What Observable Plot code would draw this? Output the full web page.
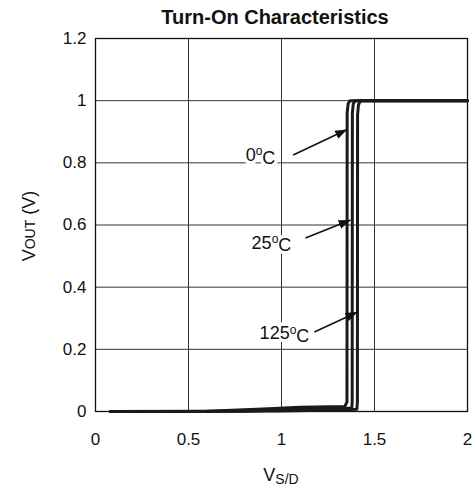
<!DOCTYPE html>
<html><head><meta charset="utf-8">
<script src="https://cdn.jsdelivr.net/npm/d3@7"></script>
<script src="https://cdn.jsdelivr.net/npm/@observablehq/plot@0.6"></script>
<style>
body{margin:0;background:#fff;font-family:"Liberation Sans",Arial,sans-serif}
#title{width:474px;height:30px;line-height:30px;padding-top:2px;box-sizing:border-box;padding-left:76px;text-align:center;font-weight:bold;font-size:20px;color:#111}
</style></head><body>
<div id="title">Turn-On Characteristics</div>
<div id="chart"></div>
<script>
// Series: VS/D (x) and VOUT (y) per temperature
const series = ["0°C", "25°C", "125°C"];
const vsd_0   = [0.08, 0.6, 0.9, 1.1, 1.34, 1.352, 1.353, 1.358, 1.368, 2.0];
const vout_0  = [0.0, 0.001, 0.008, 0.014, 0.016, 0.03, 0.96, 0.99, 1.0, 1.0];
const vsd_25  = [0.08, 0.8, 1.05, 1.3, 1.378, 1.38, 1.381, 1.386, 1.396, 2.0];
const vout_25 = [0.0, 0.001, 0.006, 0.01, 0.011, 0.03, 0.96, 0.99, 1.0, 1.0];
const vsd_125  = [0.08, 1.0, 1.3, 1.405, 1.408, 1.409, 1.414, 1.425, 2.0];
const vout_125 = [0.0, 0.002, 0.005, 0.007, 0.03, 0.955, 0.987, 1.0, 1.0];

// Annotation labels and arrows
const labelText = ["0°C", "25°C", "125°C"];
const labelX = [0.887, 0.946, 1.016];
const labelY = [0.825, 0.542, 0.251];
const arrowX1 = [1.063, 1.129, 1.177];
const arrowY1 = [0.825, 0.558, 0.256];
const arrowX2 = [1.353, 1.371, 1.409];
const arrowY2 = [0.907, 0.616, 0.320];

const xTicks = [0, 0.5, 1, 1.5, 2];
const yTicks = [0, 0.2, 0.4, 0.6, 0.8, 1.0, 1.2];

const curves = [[vsd_0, vout_0], [vsd_25, vout_25], [vsd_125, vout_125]];
const rows = curves.flatMap(([xs, ys], k) => xs.map((x, i) => ({series: series[k], x, y: ys[i]})));
const labels = labelText.map((t, i) => ({t, x: labelX[i], y: labelY[i]}));
const arrows = arrowX1.map((x1, i) => ({x1, y1: arrowY1[i], x2: arrowX2[i], y2: arrowY2[i]}));

const triangle = (color) => {
  const m = d3.create("svg:marker")
    .attr("viewBox", "0 -5 12 10")
    .attr("markerWidth", 12).attr("markerHeight", 10)
    .attr("markerUnits", "userSpaceOnUse")
    .attr("refX", 12).attr("refY", 0)
    .attr("orient", "auto");
  m.append("path").attr("d", "M0,-4.5L12,0L0,4.5Z").attr("fill", color).attr("stroke", "none");
  return m.node();
};

const fmt = d => String(d);

const chart = Plot.plot({
  width: 474,
  height: 457,
  marginTop: 8,
  marginLeft: 95,
  marginRight: 7,
  marginBottom: 76,
  style: {fontFamily: '"Liberation Sans", Arial, sans-serif', fontSize: "17px", color: "#111", background: "#fff"},
  x: {domain: [0, 2], ticks: xTicks, tickFormat: fmt, tickSize: 0, tickPadding: 21, label: null},
  y: {domain: [0, 1.2], ticks: yTicks, tickFormat: fmt, tickSize: 0, tickPadding: 9, label: null},
  marks: [
    Plot.gridX(xTicks.slice(1, -1), {stroke: "#333", strokeOpacity: 1, strokeWidth: 1}),
    Plot.gridY(yTicks.slice(1, -1), {stroke: "#333", strokeOpacity: 1, strokeWidth: 1}),
    Plot.frame({stroke: "#111", strokeWidth: 1.3}),
    Plot.line(rows, {x: "x", y: "y", z: "series", stroke: "#1a1a1a", strokeWidth: 3, strokeLinejoin: "round"}),
    // white halo behind labels (breaks gridlines), then the labels themselves
    Plot.text(labels, {x: "x", y: "y", text: "t", fontSize: 18, fill: "white", stroke: "white", strokeWidth: 7, className: "halo"}),
    Plot.text(labels, {x: "x", y: "y", text: "t", fontSize: 18, fill: "#111", className: "lbl"}),
    Plot.link(arrows, {x1: "x1", y1: "y1", x2: "x2", y2: "y2", stroke: "#111", strokeWidth: 1.6, markerEnd: triangle})
  ]
});
document.getElementById("chart").appendChild(chart);

const svg = d3.select(chart);
// Superscript "o" for the degree sign in annotation labels
svg.selectAll('g[aria-label="text"] text').each(function () {
  const el = d3.select(this);
  const s = el.text();
  const i = s.indexOf("°");
  if (i < 0) return;
  el.text("");
  el.append("tspan").text(s.slice(0, i));
  el.append("tspan").attr("dy", "-0.45em").style("font-size", "12px").text("o");
  el.append("tspan").attr("dy", "0.45em").text(s.slice(i + 1));
});

// Axis titles with subscripts
const yl = svg.append("text")
  .attr("transform", "translate(35,196) rotate(-90)")
  .attr("text-anchor", "middle")
  .attr("fill", "#111")
  .style("font-size", "18px");
yl.append("tspan").text("V");
yl.append("tspan").style("font-size", "14px").text("OUT");
yl.append("tspan").text(" (V)");

const xl = svg.append("text")
  .attr("x", 281).attr("y", 451)
  .attr("text-anchor", "middle")
  .attr("fill", "#111")
  .style("font-size", "18px");
xl.append("tspan").text("V");
xl.append("tspan").attr("dy", 3).style("font-size", "14px").text("S/D");
</script>
</body></html>
